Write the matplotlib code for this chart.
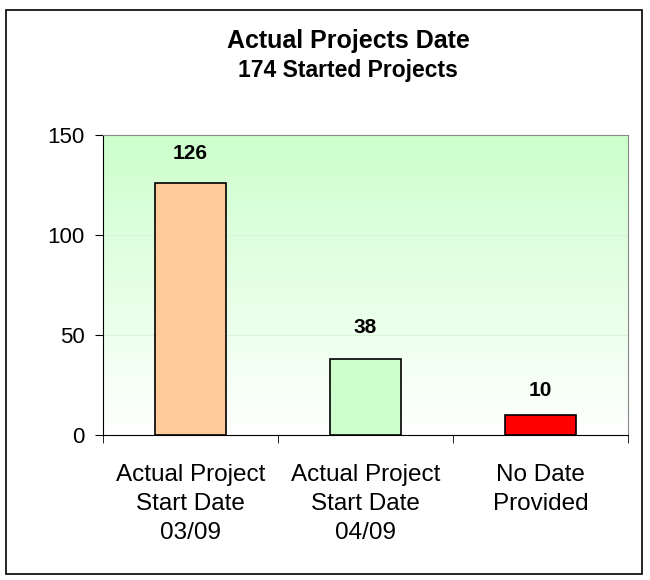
import matplotlib.pyplot as plt
import matplotlib.patches as patches
import numpy as np

plt.rcParams['font.family'] = ['Liberation Sans', 'DejaVu Sans']

categories = ["Actual Project\nStart Date\n03/09", "Actual Project\nStart Date\n04/09", "No Date\nProvided"]
values = [126, 38, 10]
colors = ["#FFCC99", "#CCFFCC", "#FF0000"]

W, H = 650, 580
fig = plt.figure(figsize=(6.5, 5.8), dpi=100)
# outer chart border
fig.patches.append(patches.Rectangle((6 / W, 6 / H), 636 / W, 564 / H, transform=fig.transFigure,
                                     fill=False, edgecolor="black", linewidth=1.2))

ax = fig.add_axes([103 / W, 1 - 435 / H, 525 / W, 300 / H])

# green-to-white gradient background
grad = np.linspace(1, 0, 256).reshape(-1, 1, 1)
top = np.array([0xCC, 0xFF, 0xCC]) / 255
img = (1 - grad) + top * grad
ax.imshow(img, extent=[-0.5, 2.5, 0, 150], aspect="auto", zorder=0, origin="upper")

x = np.arange(len(values))
ax.bar(x, values, width=0.405, color=colors, edgecolor="black", linewidth=1.2, zorder=3)

# label gap above each bar (points), as in the original
label_gap = [17.5, 19, 13.5]
for xi, v, g in zip(x, values, label_gap):
    ax.annotate(str(v), (xi, v), xytext=(0, g), textcoords="offset points",
                ha="center", va="baseline", fontsize=15, fontweight="bold")

ax.set_xlim(-0.5, 2.5)
ax.set_ylim(0, 150)
ax.set_yticks([0, 50, 100, 150])
ax.tick_params(axis="y", labelsize=16, length=6, direction="out", pad=7)
for y in [50, 100]:
    ax.axhline(y, color="#D8F5D8", linewidth=0.8, zorder=1)

ax.set_xticks(x)
ax.set_xticklabels(categories, fontsize=17.5, linespacing=1.4)
ax.tick_params(axis="x", length=0, pad=21)
ax.set_xticks([-0.5, 0.5, 1.5, 2.5], minor=True)
ax.tick_params(axis="x", which="minor", length=6, direction="out")

ax.spines["left"].set_color("black")
ax.spines["bottom"].set_color("black")
ax.spines["top"].set_color("#888888")
ax.spines["right"].set_color("#888888")

fig.text(348 / W, 1 - 41 / H, "Actual Projects Date", ha="center", va="center", fontsize=18, fontweight="bold")
fig.text(348 / W, 1 - 71 / H, "174 Started Projects", ha="center", va="center", fontsize=16.5, fontweight="bold")

fig.savefig("out.png", dpi=100)
